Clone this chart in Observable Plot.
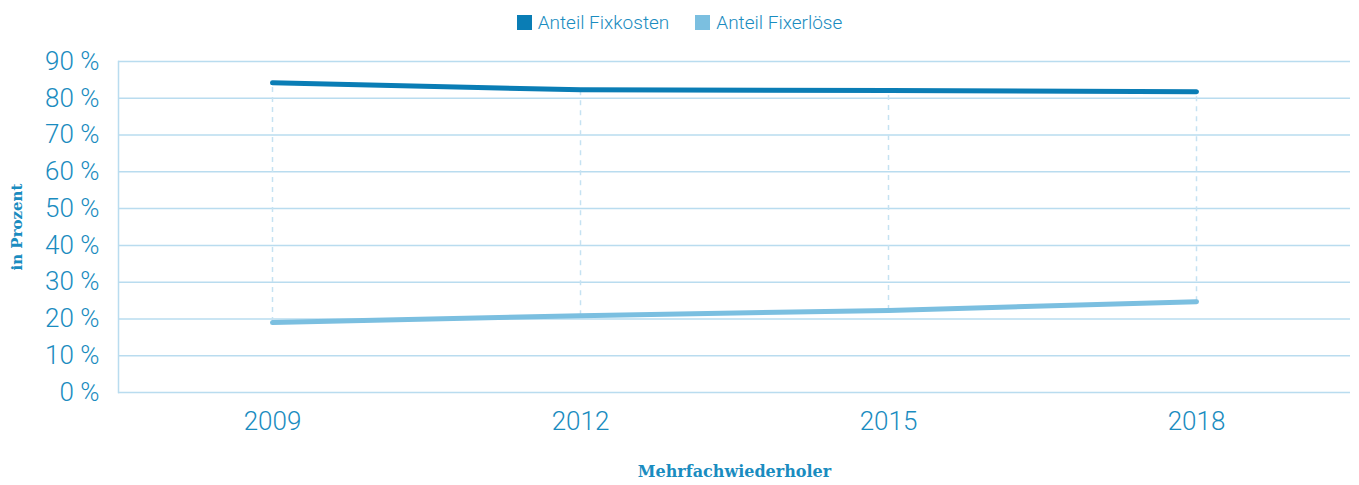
<!DOCTYPE html>
<html><head><meta charset="utf-8">
<script src="https://cdn.jsdelivr.net/npm/d3@7"></script>
<script src="https://cdn.jsdelivr.net/npm/@observablehq/plot@0.6"></script>
<style>
body{margin:0;background:#fff;font-family:Roboto,"Open Sans",sans-serif;}
#legend{height:40px;display:flex;justify-content:center;align-items:center;gap:26px;font-size:19px;font-weight:300;color:#1a8cc0;padding-left:0px;box-sizing:border-box;padding-top:4px}
#legend span.item{display:flex;align-items:center;gap:6px}
#legend span.sw{display:inline-block;width:15px;height:15px}
</style></head><body>
<div id="legend"></div>
<div id="chart"></div>
<script>
const years = ["2009","2012","2015","2018"];
const fixkosten = [84.2, 82.3, 82.1, 81.8];
const fixerloese = [19.0, 20.9, 22.3, 24.7];
const seriesNames = ["Anteil Fixkosten","Anteil Fixerlöse"];
const seriesColors = ["#0a7db5","#7bbfe0"];
const yTicks = [0,10,20,30,40,50,60,70,80,90];

const legend = document.getElementById("legend");
seriesNames.forEach((n,i)=>{
  const it=document.createElement("span");it.className="item";
  const sw=document.createElement("span");sw.className="sw";sw.style.background=seriesColors[i];
  it.appendChild(sw);it.appendChild(document.createTextNode(n));legend.appendChild(it);
});

const rows = [];
years.forEach((y,i)=>{rows.push({year:y,value:fixkosten[i],s:seriesNames[0]});rows.push({year:y,value:fixerloese[i],s:seriesNames[1]});});
const drops = years.map((y,i)=>({year:y,lo:fixerloese[i],hi:fixkosten[i]}));

const chart = Plot.plot({
  width:1359, height:445,
  marginLeft:118, marginRight:9, marginTop:21, marginBottom:93,
  style:{fontFamily:"Roboto, sans-serif", color:"#1a8cc0", background:"#fff", overflow:"visible"},
  x:{type:"point", domain:years, padding:0.5, align:0.5},
  y:{domain:[0,90], ticks:yTicks},
  color:{domain:seriesNames, range:seriesColors},
  marks:[
    Plot.ruleY(yTicks,{stroke:"#b9dcef",strokeWidth:1.5}),
    Plot.frame({anchor:"left",stroke:"#b9dcef",strokeWidth:1.5}),
    Plot.ruleX(drops,{x:"year",y1:"lo",y2:"hi",stroke:"#c5e2f2",strokeWidth:1.5,strokeDasharray:"5,5"}),
    Plot.line(rows,{x:"year",y:"value",z:"s",stroke:"s",strokeWidth:5,strokeLinecap:"round",strokeLinejoin:"round"}),
    Plot.axisY(yTicks,{tickSize:0,tickPadding:19,fontSize:26,fontWeight:300,fill:"#1a8cc0",tickFormat:d=>`${d} %`,label:null}),
    Plot.axisX(years,{tickSize:0,tickPadding:19,fontSize:26,fontWeight:300,fill:"#1a8cc0",label:null}),
    Plot.text(["in Prozent"],{frameAnchor:"left",textAnchor:"middle",dx:-101,rotate:-90,fontSize:15,fontWeight:"bold",fontFamily:"DejaVu Serif",fill:"#1a8cc0"}),
    Plot.text(["Mehrfachwiederholer"],{frameAnchor:"bottom",dy:84,fontSize:16,fontWeight:"bold",fontFamily:"DejaVu Serif",fill:"#1a8cc0"})
  ]
});
document.getElementById("chart").appendChild(chart);
</script>
</body></html>
